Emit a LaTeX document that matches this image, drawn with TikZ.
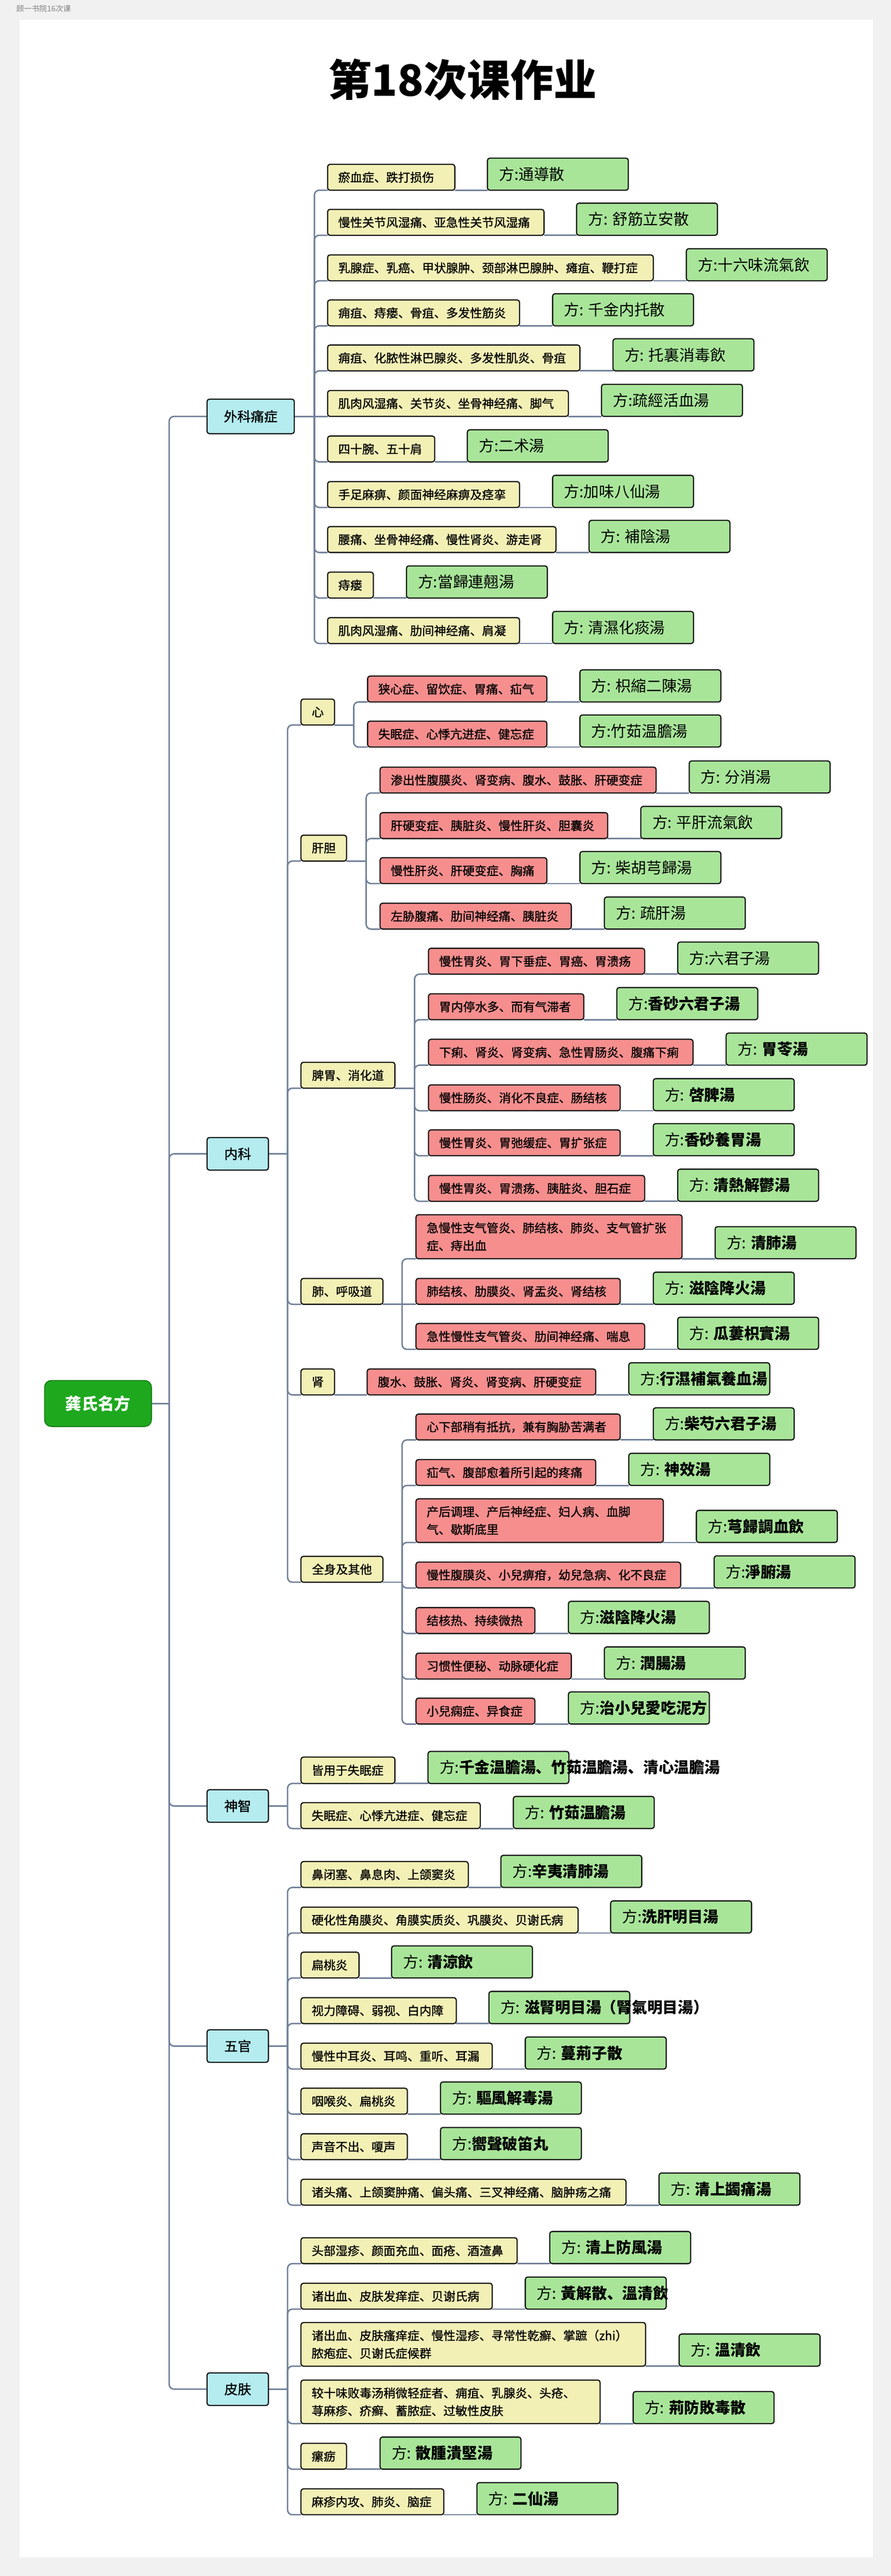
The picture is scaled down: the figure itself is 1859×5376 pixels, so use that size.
\documentclass[tikz,border=0pt]{standalone}
\usepackage{fontspec}
\setmainfont{Noto Sans CJK SC}
\newfontfamily\lffont{Noto Sans CJK SC}[FakeBold=1.2]
\definecolor{lineC}{RGB}{112,128,152}
\definecolor{yelC}{RGB}{243,240,182}
\definecolor{redC}{RGB}{246,142,142}
\definecolor{grnC}{RGB}{168,229,153}
\definecolor{cyC}{RGB}{180,236,240}
\definecolor{rootC}{RGB}{30,168,30}
\definecolor{pageC}{RGB}{241,241,241}
\pgfdeclarelayer{bg}
\pgfsetlayers{bg,main}
\newcommand\bo[1]{{\bfseries #1}}
\tikzset{
  conn/.style={draw=lineC, line width=3pt, rounded corners=10pt},
  boxbase/.style={draw=black!90, line width=2.5pt, rounded corners=5pt, inner sep=0pt, outer sep=0pt},
  ybox/.style={boxbase, fill=yelC},
  rbox/.style={boxbase, fill=redC},
  fbox/.style={boxbase, fill=grnC, minimum width=294pt, minimum height=67pt},
  cbox/.style={boxbase, fill=cyC, font=\fontsize{28}{32}\lffont},
  subbox/.style={boxbase, fill=yelC, font=\fontsize{25}{30}\lffont},
  lt/.style={font=\fontsize{25}{37}\lffont, inner sep=0pt, align=left, anchor=west},
  ft/.style={font=\fontsize{32}{38}\selectfont, inner sep=0pt, anchor=west},
}
\newcommand\lf[9]{%
  \node[#2, minimum width={#4-#3}, minimum height={#6-#5}, anchor=north west] (#1) at (#3,#5) {};
  \node[lt] (#1t) at ([xshift=22pt]#1.west) {#7};
  \node[fbox, anchor=south west] (#1f) at (#8,#6) {};
  \node[ft] (#1ft) at ([xshift=24pt]#1f.west) {#9};
  \begin{pgfonlayer}{bg}\draw[conn] (#1.south east) -- (#1f.south west);\end{pgfonlayer}
}
\newcommand\bnode[7]{%
  \node[#2, minimum width={#4-#3}, minimum height={#6-#5}, anchor=north west] (#1) at (#3,#5) {#7};
}
\begin{document}
\begin{tikzpicture}[x=1pt,y=-1pt]
\useasboundingbox (0,0) rectangle (1859,5376);
\begin{pgfonlayer}{bg}
  \fill[pageC] (0,0) rectangle (1859,5376);
  \fill[white] (41,41) rectangle (1821,5337);
\end{pgfonlayer}
\node[anchor=west, font=\fontsize{16}{18}\selectfont, text=black!50, inner sep=0pt] (hdr) at (34,18) {顾一书院16次课};
\node[font=\fontsize{90}{100}\selectfont\bfseries, inner sep=0pt] (title) at (965,166) {第18次课作业};

% root
\node[draw=rootC!75!black, fill=rootC, rounded corners=14pt, line width=2pt, minimum width=223pt, minimum height=96pt, inner sep=0pt, outer sep=0pt, text=white, font=\fontsize{34}{40}\selectfont\bfseries] (root) at (204.5,2929) {龚氏名方};

% main branches
\bnode{cWai}{cbox}{432}{614}{833}{905}{外科痛症}
\bnode{cNei}{cbox}{432}{560}{2374}{2442}{内科}
\bnode{cShen}{cbox}{432}{560}{3735}{3803}{神智}
\bnode{cWu}{cbox}{432}{560}{4236}{4304}{五官}
\bnode{cPi}{cbox}{432}{560}{4952}{5020}{皮肤}

% sub branches of 内科
\bnode{sXin}{subbox}{628}{698}{1459}{1513}{心}
\bnode{sGan}{subbox}{628}{723}{1743}{1797}{肝胆}
\bnode{sPi}{subbox}{628}{824}{2217}{2271}{脾胃、消化道}
\bnode{sFei}{subbox}{628}{799}{2668}{2722}{肺、呼吸道}
\bnode{sShen}{subbox}{628}{698}{2857}{2911}{肾}
\bnode{sQuan}{subbox}{628}{799}{3248}{3302}{全身及其他}

% 外科痛症
\lf{wa}{ybox}{683.5}{949}{343}{397}{瘀血症、跌打损伤}{1017}{方:通導散}
\lf{wb}{ybox}{683.5}{1135}{437}{491}{慢性关节风湿痛、亚急性关节风湿痛}{1203}{方: 舒筋立安散}
\lf{wc}{ybox}{683.5}{1363}{532}{586}{乳腺症、乳癌、甲状腺肿、颈部淋巴腺肿、瘫疽、鞭打症}{1432}{方:十六味流氣飲}
\lf{wd}{ybox}{683.5}{1084}{626}{680}{痈疽、痔瘘、骨疽、多发性筋炎}{1153}{方: 千金内托散}
\lf{we}{ybox}{683.5}{1210}{720}{774}{痈疽、化脓性淋巴腺炎、多发性肌炎、骨疽}{1279}{方: 托裏消毒飲}
\lf{wf}{ybox}{683.5}{1186}{815}{869}{肌肉风湿痛、关节炎、坐骨神经痛、脚气}{1255}{方:疏經活血湯}
\lf{wg}{ybox}{683.5}{907}{910}{964}{四十腕、五十肩}{975}{方:二术湯}
\lf{wh}{ybox}{683.5}{1084}{1005}{1059}{手足麻痹、颜面神经麻痹及痉挛}{1153}{方:加味八仙湯}
\lf{wi}{ybox}{683.5}{1160}{1099}{1153}{腰痛、坐骨神经痛、慢性肾炎、游走肾}{1229}{方: 補陰湯}
\lf{wj}{ybox}{683.5}{779}{1194}{1248}{痔瘘}{848}{方:當歸連翹湯}
\lf{wk}{ybox}{683.5}{1084}{1289}{1343}{肌肉风湿痛、肋间神经痛、肩凝}{1153}{方: 清濕化痰湯}

% 心
\lf{xa}{rbox}{767}{1141}{1411}{1465}{狭心症、留饮症、胃痛、疝气}{1210}{方: 枳縮二陳湯}
\lf{xb}{rbox}{767}{1141}{1505}{1559}{失眠症、心悸亢进症、健忘症}{1210}{方:竹茹温膽湯}

% 肝胆
\lf{ga}{rbox}{793}{1369}{1601}{1655}{渗出性腹膜炎、肾变病、腹水、鼓胀、肝硬变症}{1438}{方: 分消湯}
\lf{gb}{rbox}{793}{1268}{1696}{1750}{肝硬变症、胰脏炎、慢性肝炎、胆囊炎}{1337}{方: 平肝流氣飲}
\lf{gc}{rbox}{793}{1141}{1790}{1844}{慢性肝炎、肝硬变症、胸痛}{1210}{方: 柴胡芎歸湯}
\lf{gd}{rbox}{793}{1192}{1885}{1939}{左胁腹痛、肋间神经痛、胰脏炎}{1261}{方: 疏肝湯}

% 脾胃
\lf{pa}{rbox}{894}{1345}{1979}{2033}{慢性胃炎、胃下垂症、胃癌、胃溃疡}{1414}{方:六君子湯}
\lf{pb}{rbox}{894}{1218}{2074}{2128}{胃内停水多、而有气滞者}{1287}{方:\bo{香砂六君子湯}}
\lf{pc}{rbox}{894}{1446}{2169}{2223}{下痢、肾炎、肾变病、急性胃肠炎、腹痛下痢}{1515}{方: \bo{胃苓湯}}
\lf{pd}{rbox}{894}{1294}{2264}{2318}{慢性肠炎、消化不良症、肠结核}{1363}{方: \bo{啓脾湯}}
\lf{pe}{rbox}{894}{1294}{2358}{2412}{慢性胃炎、胃弛缓症、胃扩张症}{1363}{方:\bo{香砂養胃湯}}
\lf{pf}{rbox}{894}{1345}{2453}{2507}{慢性胃炎、胃溃疡、胰脏炎、胆石症}{1414}{方: \bo{清熱解鬱湯}}

% 肺
\lf{fa}{rbox}{868}{1423}{2535}{2627}{急慢性支气管炎、肺结核、肺炎、支气管扩张\\症、痔出血}{1492}{方: \bo{清肺湯}}
\lf{fb}{rbox}{868}{1294}{2668}{2722}{肺结核、肋膜炎、肾盂炎、肾结核}{1363}{方: \bo{滋陰降火湯}}
\lf{fc}{rbox}{868}{1345}{2762}{2816}{急性慢性支气管炎、肋间神经痛、喘息}{1414}{方: \bo{瓜蔞枳實湯}}

% 肾
\lf{sa}{rbox}{766}{1243}{2857}{2911}{腹水、鼓胀、肾炎、肾变病、肝硬变症}{1312}{方:\bo{行濕補氣養血湯}}

% 全身及其他
\lf{qa}{rbox}{868}{1294}{2951}{3005}{心下部稍有抵抗，兼有胸胁苦满者}{1363}{方:\bo{柴芍六君子湯}}
\lf{qb}{rbox}{868}{1243}{3046}{3100}{疝气、腹部愈着所引起的疼痛}{1312}{方: \bo{神效湯}}
\lf{qc}{rbox}{868}{1384}{3128}{3219}{产后调理、产后神经症、妇人病、血脚\\气、歇斯底里}{1453}{方:\bo{芎歸調血飲}}
\lf{qd}{rbox}{868}{1420}{3260}{3314}{慢性腹膜炎、小兒痹疳，幼兒急病、化不良症}{1490}{方:\bo{淨腑湯}}
\lf{qe}{rbox}{868}{1116}{3355}{3409}{结核热、持续微热}{1186}{方:\bo{滋陰降火湯}}
\lf{qf}{rbox}{868}{1192}{3450}{3504}{习惯性便秘、动脉硬化症}{1261}{方: \bo{潤腸湯}}
\lf{qg}{rbox}{868}{1116}{3544}{3598}{小兒痫症、异食症}{1186}{方:\bo{治小兒愛吃泥方}}

% 神智
\lf{za}{ybox}{628}{824}{3667}{3722}{皆用于失眠症}{893}{方:\bo{千金温膽湯、竹茹温膽湯、清心温膽湯}}
\lf{zb}{ybox}{628}{1002}{3762}{3816}{失眠症、心悸亢进症、健忘症}{1071}{方: \bo{竹茹温膽湯}}

% 五官
\lf{oa}{ybox}{628}{977}{3885}{3939}{鼻闭塞、鼻息肉、上颌窦炎}{1045}{方:\bo{辛夷清肺湯}}
\lf{ob}{ybox}{628}{1206}{3980}{4034}{硬化性角膜炎、角膜实质炎、巩膜炎、贝谢氏病}{1274}{方:\bo{洗肝明目湯}}
\lf{oc}{ybox}{628}{749}{4074}{4128}{扁桃炎}{817}{方: \bo{清涼飲}}
\lf{od}{ybox}{628}{952}{4169}{4223}{视力障碍、弱视、白内障}{1020}{方: \bo{滋腎明目湯（腎氣明目湯）}}
\lf{oe}{ybox}{628}{1027}{4264}{4318}{慢性中耳炎、耳鸣、重听、耳漏}{1096}{方: \bo{蔓荊子散}}
\lf{of}{ybox}{628}{850}{4358}{4412}{咽喉炎、扁桃炎}{919}{方: \bo{驅風解毒湯}}
\lf{og}{ybox}{628}{850}{4453}{4507}{声音不出、嗄声}{919}{方:\bo{嚮聲破笛丸}}
\lf{oh}{ybox}{628}{1306}{4548}{4602}{诸头痛、上颌窦肿痛、偏头痛、三叉神经痛、脑肿疡之痛}{1375}{方: \bo{清上蠲痛湯}}

% 皮肤
\lf{ka}{ybox}{628}{1079}{4670}{4724}{头部湿疹、颜面充血、面疮、酒渣鼻}{1147}{方: \bo{清上防風湯}}
\lf{kb}{ybox}{628}{1027}{4765}{4819}{诸出血、皮肤发痒症、贝谢氏病}{1096}{方: \bo{黃解散、溫清飲}}
\lf{kc}{ybox}{628}{1347}{4847}{4938}{诸出血、皮肤瘙痒症、慢性湿疹、寻常性乾癬、掌蹠（zhi）\\脓疱症、贝谢氏症候群}{1417}{方: \bo{溫清飲}}
\lf{kd}{ybox}{628}{1252}{4967}{5058}{较十味败毒汤稍微轻症者、痈疽、乳腺炎、头疮、\\荨麻疹、疥癣、蓄脓症、过敏性皮肤}{1321}{方: \bo{荊防敗毒散}}
\lf{ke}{ybox}{628}{723}{5099}{5153}{瘰疬}{793}{方: \bo{散腫潰堅湯}}
\lf{kf}{ybox}{628}{926}{5194}{5248}{麻疹内攻、肺炎、脑症}{995}{方: \bo{二仙湯}}

% connectors
\coordinate (rT) at (353,2929);
\coordinate (waiT) at (656,869);
\coordinate (neiT) at (600,2408);
\coordinate (xinT) at (738,1513);
\coordinate (ganT) at (764,1797);
\coordinate (piT) at (865,2271);
\coordinate (feiT) at (839,2722);
\coordinate (quanT) at (839,3302);
\coordinate (shenT) at (600,3769);
\coordinate (wuT) at (600,4270);
\coordinate (pifT) at (600,4986);
\begin{pgfonlayer}{bg}
  \draw[conn] (root.east) -- (rT);
  \foreach \n in {cWai,cNei,cShen,cWu,cPi} \draw[conn] (rT) |- (\n.west);
  \draw[conn] (cWai.east) -- (waiT);
  \foreach \n in {wa,wb,wc,wd,we,wg,wh,wi,wj,wk} \draw[conn] (waiT) |- (\n.south west);
  \draw[conn] (waiT) -- (wf.south west);
  \draw[conn] (cNei.east) -- (neiT);
  \foreach \n in {sXin,sGan,sPi,sFei,sShen,sQuan} \draw[conn] (neiT) |- (\n.south west);
  \draw[conn] (sXin.south east) -- (xinT);
  \foreach \n in {xa,xb} \draw[conn] (xinT) |- (\n.south west);
  \draw[conn] (sGan.south east) -- (ganT);
  \foreach \n in {ga,gb,gc,gd} \draw[conn] (ganT) |- (\n.south west);
  \draw[conn] (sPi.south east) -- (piT);
  \foreach \n in {pa,pb,pc,pd,pe,pf} \draw[conn] (piT) |- (\n.south west);
  \draw[conn] (sFei.south east) -- (feiT);
  \foreach \n in {fa,fc} \draw[conn] (feiT) |- (\n.south west);
  \draw[conn] (feiT) -- (fb.south west);
  \draw[conn] (sShen.south east) -- (sa.south west);
  \draw[conn] (sQuan.south east) -- (quanT);
  \foreach \n in {qa,qb,qc,qd,qe,qf,qg} \draw[conn] (quanT) |- (\n.south west);
  \draw[conn] (cShen.east) -- (shenT);
  \foreach \n in {za,zb} \draw[conn] (shenT) |- (\n.south west);
  \draw[conn] (cWu.east) -- (wuT);
  \foreach \n in {oa,ob,oc,od,oe,of,og,oh} \draw[conn] (wuT) |- (\n.south west);
  \draw[conn] (cPi.east) -- (pifT);
  \foreach \n in {ka,kb,kc,kd,ke,kf} \draw[conn] (pifT) |- (\n.south west);
\end{pgfonlayer}
\end{tikzpicture}
\end{document}
